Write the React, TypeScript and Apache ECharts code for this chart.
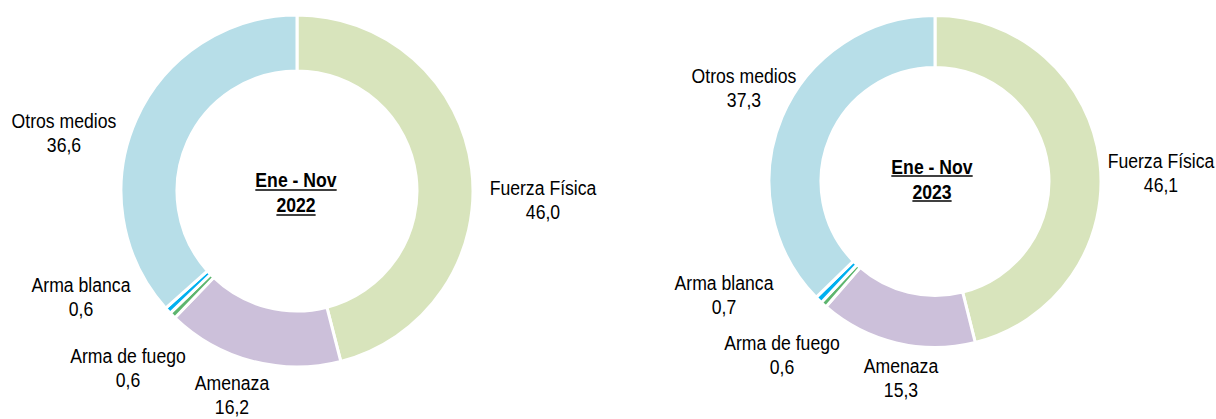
import React, { useEffect, useRef } from "react";
import * as echarts from "echarts";

const categories = ["Fuerza Física", "Amenaza", "Arma de fuego", "Arma blanca", "Otros medios"];
const values2022 = [46.0, 16.2, 0.6, 0.6, 36.6];
const values2023 = [46.1, 15.3, 0.6, 0.7, 37.3];
const periodTitles = ["Ene - Nov", "Ene - Nov"];
const periodYears = ["2022", "2023"];
const colors = ["#D8E4BC", "#CCC0DA", "#5DB56E", "#00B0F0", "#B7DEE8"];

const FONT = "'Liberation Sans', Arial, sans-serif";
const NARROW = 0.84; // emulate a narrow typeface

// label block centres (layout only)
const labelPos2022: [number, number][] = [
  [543, 199],
  [232, 394],
  [128, 367],
  [81, 296],
  [64, 132],
];
const labelPos2023: [number, number][] = [
  [1161, 172],
  [901, 377],
  [782, 354],
  [724, 294],
  [744, 87],
];

const fmt = (v: number) => v.toFixed(1).replace(".", ",");

function measure(text: string, font: string): number {
  const c = document.createElement("canvas");
  const ctx = c.getContext("2d");
  if (!ctx) return text.length * 10;
  ctx.font = font;
  return ctx.measureText(text).width;
}

export default function App() {
  const ref = useRef<HTMLDivElement>(null);
  useEffect(() => {
    if (!ref.current) return;
    const chart = echarts.init(ref.current, undefined, { renderer: "svg" });

    const makeSeries = (vals: number[], center: number[], radius: number[]) => ({
      type: "pie",
      center,
      radius,
      startAngle: 90,
      clockwise: true,
      avoidLabelOverlap: false,
      silent: true,
      itemStyle: { borderColor: "#ffffff", borderWidth: 3 },
      label: { show: false },
      labelLine: { show: false },
      data: categories.map((c, i) => ({ name: c, value: vals[i], itemStyle: { color: colors[i] } })),
    });

    const graphics: any[] = [];

    const addLabels = (vals: number[], pos: [number, number][]) => {
      categories.forEach((c, i) => {
        graphics.push({
          type: "text",
          x: pos[i][0],
          y: pos[i][1],
          scaleX: NARROW,
          silent: true,
          style: {
            text: c + "\n" + fmt(vals[i]),
            fontFamily: FONT,
            fontSize: 21,
            lineHeight: 24,
            fill: "#000",
            align: "center",
            verticalAlign: "middle",
          },
        });
      });
    };
    addLabels(values2022, labelPos2022);
    addLabels(values2023, labelPos2023);

    const boldFont = "bold 21px " + FONT;
    const centers = [
      { x: 296, y1: 179, y2: 204, u1: 190, u2: 215 },
      { x: 932, y1: 166, y2: 191, u1: 176, u2: 201 },
    ];
    centers.forEach((c, i) => {
      const t1 = periodTitles[i];
      const t2 = periodYears[i];
      const w1 = measure(t1, boldFont) * NARROW;
      const w2 = measure(t2, boldFont) * NARROW;
      const txt = (t: string, y: number) => ({
        type: "text",
        x: c.x,
        y,
        scaleX: NARROW,
        silent: true,
        style: { text: t, fontFamily: FONT, fontSize: 21, fontWeight: "bold", fill: "#000", align: "center", verticalAlign: "middle" },
      });
      graphics.push(
        txt(t1, c.y1),
        txt(t2, c.y2),
        {
          type: "line",
          silent: true,
          shape: { x1: c.x - w1 / 2, y1: c.u1, x2: c.x + w1 / 2, y2: c.u1 },
          style: { stroke: "#000", lineWidth: 1.5 },
        },
        {
          type: "line",
          silent: true,
          shape: { x1: c.x - w2 / 2, y1: c.u2, x2: c.x + w2 / 2, y2: c.u2 },
          style: { stroke: "#000", lineWidth: 1.5 },
        }
      );
    });

    chart.setOption({
      animation: false,
      backgroundColor: "#ffffff",
      series: [
        makeSeries(values2022, [297, 191], [120, 176]),
        makeSeries(values2023, [935, 181.5], [114, 166]),
      ],
      graphic: graphics,
    });
    return () => chart.dispose();
  }, []);
  return <div ref={ref} style={{ position: "fixed", left: 0, top: 0, width: 1216, height: 419 }} />;
}
